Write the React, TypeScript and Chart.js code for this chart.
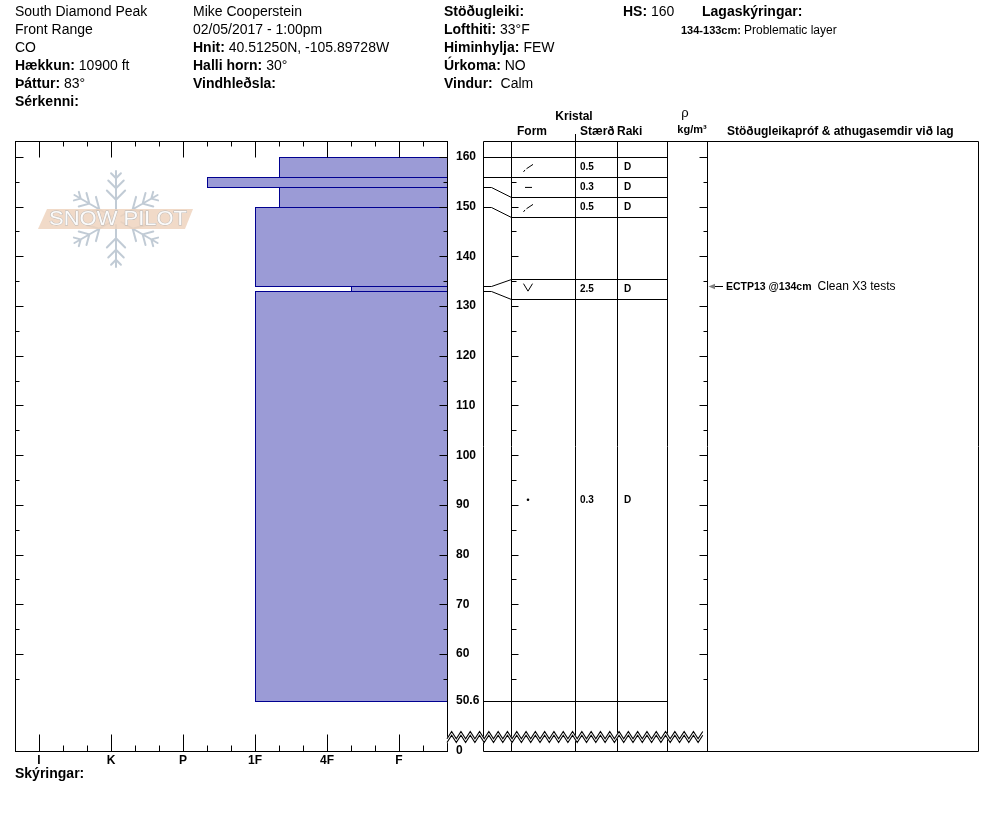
import React, { useEffect, useRef } from 'react';
import { Chart, registerables } from 'chart.js';

Chart.register(...registerables);

const FONT = 'Arial, "Liberation Sans", Helvetica, sans-serif';

// ---------- header data ----------
const siteLines = ['South Diamond Peak', 'Front Range', 'CO'];
const siteFields = [['Hækkun:', '10900 ft'], ['Þáttur:', '83°'], ['Sérkenni:', '']];
const observerLines = ['Mike Cooperstein', '02/05/2017 - 1:00pm'];
const observerFields = [['Hnit:', '40.51250N, -105.89728W'], ['Halli horn:', '30°'], ['Vindhleðsla:', '']];
const weatherFields = [['Stöðugleiki:', ''], ['Lofthiti:', '33°F'], ['Himinhylja:', 'FEW'], ['Úrkoma:', 'NO'], ['Vindur:', ' Calm']];
const snowHeight = ['HS:', '160'];
const layerNotesTitle = 'Lagaskýringar:';
const layerNotes = [['134-133cm:', 'Problematic layer']];
const legendTitle = 'Skýringar:';

// ---------- layer data ----------
const layerTop = [160, 156, 154, 150, 134, 133];
const layerBottom = [156, 154, 150, 134, 133, 50.6];
const layerHardness = ['1F-', 'P-', '1F-', '1F', '4F-', '1F'];
const layerForm = ['DF', 'IF', 'DF', '', 'SH', 'RG'];
const layerSize = ['0.5', '0.3', '0.5', '', '2.5', '0.3'];
const layerMoisture = ['D', 'D', 'D', '', 'D', 'D'];

// ---------- stability tests ----------
const testDepth = [134];
const testCode = ['ECTP13 @134cm'];
const testComment = ['Clean X3 tests'];

// ---------- axes ----------
const hardnessScale = ['', 'F-', 'F', 'F+', '4F-', '4F', '4F+', '1F-', '1F', '1F+', 'P-', 'P', 'P+', 'K-', 'K', 'K+', 'I-', 'I', 'I+'];
const hardnessAxisLabels = ['I', 'K', 'P', '1F', '4F', 'F'];
const depthTicks = [50.6, 60, 70, 80, 90, 100, 110, 120, 130, 140, 150, 160];
const depthAxisMax = 163.2;
const depthAxisMin = 40.5; // compressed (broken) part of the axis, labelled 0
const depthAxisBottomLabel = '0';

// ---------- table headings ----------
const headKristal = 'Kristal';
const headForm = 'Form';
const headSize = 'Stærð';
const headMoist = 'Raki';
const headRho = 'ρ';
const headRhoUnit = 'kg/m³';
const headNotes = 'Stöðugleikapróf & athugasemdir við lag';

const BAR_FILL = '#9b9bd6';
const BAR_EDGE = '#000090';

const c = (v: number) => Math.round(v) + 0.5;

function line(ctx: CanvasRenderingContext2D, x0: number, y0: number, x1: number, y1: number) {
  ctx.beginPath();
  ctx.moveTo(x0, y0);
  ctx.lineTo(x1, y1);
  ctx.stroke();
}

function field(ctx: CanvasRenderingContext2D, x: number, y: number, lab: string, val: string, size = 14, valSize = size) {
  ctx.font = `bold ${size}px ${FONT}`;
  ctx.fillText(lab, x, y);
  const w = ctx.measureText(lab).width;
  if (val) {
    ctx.font = `${valSize}px ${FONT}`;
    ctx.fillText(val, x + w + size * 0.28, y);
  }
}

function drawLogo(ctx: CanvasRenderingContext2D, cx: number, cy: number) {
  ctx.save();
  ctx.strokeStyle = 'rgba(178,190,202,0.8)';
  ctx.lineWidth = 2;
  ctx.lineCap = 'round';
  const len = 48;
  for (let k = 0; k < 6; k++) {
    const ang = Math.PI / 2 + (k * Math.PI) / 3;
    const ux = Math.cos(ang);
    const uy = -Math.sin(ang);
    ctx.beginPath();
    ctx.moveTo(cx + ux * 6, cy + uy * 6);
    ctx.lineTo(cx + ux * len, cy + uy * len);
    const br: [number, number][] = [[0.4, 13], [0.64, 11], [0.85, 7]];
    for (const [t, bl] of br) {
      const bx = cx + ux * len * t;
      const by = cy + uy * len * t;
      for (const s of [-1, 1]) {
        const ba = ang + s * 0.78;
        ctx.moveTo(bx, by);
        ctx.lineTo(bx + Math.cos(ba) * bl, by - Math.sin(ba) * bl);
      }
    }
    ctx.stroke();
  }
  ctx.fillStyle = 'rgba(238,212,190,0.85)';
  ctx.beginPath();
  ctx.moveTo(cx - 69, cy - 10);
  ctx.lineTo(cx + 77, cy - 10);
  ctx.lineTo(cx + 69, cy + 10);
  ctx.lineTo(cx - 78, cy + 10);
  ctx.closePath();
  ctx.fill();
  ctx.font = `20px ${FONT}`;
  ctx.textAlign = 'left';
  ctx.textBaseline = 'middle';
  const txt = 'SNOW PILOT';
  const w = ctx.measureText(txt).width;
  ctx.translate(cx - 67, cy + 0.5);
  ctx.scale(138 / w, 1);
  ctx.fillStyle = '#fbfbfb';
  ctx.strokeStyle = 'rgba(180,180,180,0.9)';
  ctx.lineWidth = 0.9;
  ctx.strokeText(txt, 0, 0);
  ctx.fillText(txt, 0, 0);
  ctx.restore();
}

function drawForm(ctx: CanvasRenderingContext2D, code: string, x: number, y: number) {
  ctx.save();
  ctx.strokeStyle = '#000';
  ctx.fillStyle = '#000';
  ctx.lineWidth = 1;
  ctx.beginPath();
  if (code === 'DF') {
    ctx.moveTo(x - 4.5, y + 5);
    ctx.lineTo(x - 3, y + 3);
    ctx.moveTo(x - 1.5, y + 1.8);
    ctx.lineTo(x + 5, y - 2.5);
    ctx.stroke();
  } else if (code === 'IF') {
    ctx.moveTo(x - 3, y + 0.5);
    ctx.lineTo(x + 4, y + 0.5);
    ctx.stroke();
  } else if (code === 'SH') {
    ctx.moveTo(x - 4.5, y - 5);
    ctx.lineTo(x, y + 2.5);
    ctx.lineTo(x + 4.5, y - 5);
    ctx.stroke();
  } else if (code === 'RG') {
    ctx.arc(x, y, 1.3, 0, Math.PI * 2);
    ctx.fill();
  }
  ctx.restore();
}

const profilePlugin = {
  id: 'snowProfile',
  afterDraw(chart: any) {
    const ctx: CanvasRenderingContext2D = chart.ctx;
    const xs = chart.scales.x;
    const ys = chart.scales.y;
    const { left: L, right: R, top: T, bottom: B } = chart.chartArea;
    const py = (d: number) => ys.getPixelForValue(d);
    const px = (h: number) => xs.getPixelForValue(h);

    const cAxis = R + 36;
    const cForm = cAxis + 28;
    const cSize = cForm + 64;
    const cMoist = cSize + 42;
    const cRho = cMoist + 50;
    const cNote = cRho + 40;
    const cEnd = 978;

    ctx.save();
    drawLogo(ctx, 116, 219);

    // hardness bars
    ctx.lineWidth = 1;
    for (let i = 0; i < layerTop.length; i++) {
      const h = hardnessScale.indexOf(layerHardness[i]);
      const x0 = Math.round(px(h));
      const x1 = Math.round(px(0));
      const y0 = Math.round(py(layerTop[i]));
      const y1 = Math.round(py(layerBottom[i]));
      ctx.fillStyle = BAR_FILL;
      ctx.fillRect(x0, y0, x1 - x0, y1 - y0);
      ctx.strokeStyle = BAR_EDGE;
      ctx.strokeRect(x0 + 0.5, y0 + 0.5, x1 - x0, y1 - y0);
    }

    ctx.strokeStyle = '#000';
    ctx.lineWidth = 1;
    // left plot frame
    ctx.strokeRect(c(L), c(T), Math.round(R) - Math.round(L), Math.round(B) - Math.round(T));

    // depth ticks on the left plot, form column and density column
    for (let d = 160; d >= 55; d -= 5) {
      const y = c(py(d));
      const major = d % 10 === 0;
      line(ctx, c(L), y, c(L) + (major ? 8 : 4), y);
      line(ctx, c(R), y, c(R) - (major ? 8 : 4), y);
      line(ctx, c(cForm), y, c(cForm) + (major ? 7 : 5), y);
      line(ctx, c(cNote), y, c(cNote) - (major ? 8 : 4), y);
    }
    // hardness ticks top and bottom
    for (let h = 1; h < hardnessScale.length - 1; h++) {
      const x = c(px(h));
      const major = hardnessAxisLabels.includes(hardnessScale[h]);
      line(ctx, x, c(T), x, c(T) + (major ? 16 : 5));
      line(ctx, x, c(B), x, c(B) - (major ? 17 : 6));
    }

    // table frame
    line(ctx, c(cAxis), c(T), cEnd + 0.5, c(T));
    line(ctx, c(cAxis), c(B), cEnd + 0.5, c(B));
    for (const x of [cAxis, cForm, cSize, cMoist, cRho, cNote, cEnd]) {
      line(ctx, c(x), c(T), c(x), c(B));
    }
    line(ctx, c(cSize), 134, c(cSize), c(T));

    // layer rows (expanded to a minimum height)
    const MIN_ROW = 20;
    const n = layerTop.length;
    const exp = layerTop.map((t, i) => {
      const a = py(t);
      const b = py(layerBottom[i]);
      if (b - a < MIN_ROW) {
        const m = (a + b) / 2;
        return [m - MIN_ROW / 2, m + MIN_ROW / 2];
      }
      return [a, b];
    });
    const disp = [py(layerTop[0])];
    for (let i = 0; i < n; i++) {
      const next = i + 1 < n ? exp[i + 1][0] : exp[i][1];
      disp.push(Math.max(disp[i] + MIN_ROW, next));
    }
    const bounds = [layerTop[0], ...layerBottom];
    bounds.forEach((d, i) => {
      const ya = c(py(d));
      const yd = c(disp[i]);
      ctx.beginPath();
      ctx.moveTo(c(cAxis), ya);
      if (Math.abs(ya - yd) < 1.5) {
        ctx.lineTo(c(cForm), ya);
      } else {
        ctx.lineTo(c(cAxis) + 8, ya);
        ctx.lineTo(c(cForm), yd);
      }
      ctx.stroke();
      line(ctx, c(cForm), yd, c(cRho), yd);
    });

    // row contents
    ctx.fillStyle = '#000';
    ctx.textBaseline = 'middle';
    ctx.textAlign = 'left';
    for (let i = 0; i < n; i++) {
      const ym = (disp[i] + disp[i + 1]) / 2;
      if (layerForm[i]) drawForm(ctx, layerForm[i], cForm + 17, ym);
      ctx.font = `bold 10px ${FONT}`;
      if (layerSize[i]) ctx.fillText(layerSize[i], cSize + 5, ym + 0.5);
      if (layerMoisture[i]) ctx.fillText(layerMoisture[i], cMoist + 7, ym + 0.5);
    }

    // stability tests
    for (let i = 0; i < testDepth.length; i++) {
      const y = c(py(testDepth[i]));
      ctx.strokeStyle = '#000';
      line(ctx, cNote + 6, y, cNote + 16, y);
      ctx.fillStyle = '#808080';
      ctx.beginPath();
      ctx.moveTo(cNote + 1.5, y);
      ctx.lineTo(cNote + 8, y - 2.8);
      ctx.lineTo(cNote + 8, y + 2.8);
      ctx.closePath();
      ctx.fill();
      ctx.fillStyle = '#000';
      ctx.font = `bold 10.5px ${FONT}`;
      ctx.fillText(testCode[i], cNote + 19, y + 0.5);
      const w = ctx.measureText(testCode[i]).width;
      ctx.font = `12px ${FONT}`;
      ctx.fillText(testComment[i], cNote + 19 + w + 6, y + 0.5);
    }

    // broken-axis zigzag
    const zx0 = R;
    const zx1 = cNote;
    const zy = 731.5;
    const amp = 7.2;
    const gap = 3.8;
    const half = 4.65;
    const pts: [number, number][] = [];
    let k = 0;
    for (let x = zx0; x <= zx1 + 0.01; x += half, k++) {
      pts.push([Math.min(x, zx1), k % 2 === 0 ? zy + amp : zy]);
    }
    ctx.fillStyle = '#fff';
    ctx.beginPath();
    pts.forEach(([x, y], j) => (j === 0 ? ctx.moveTo(x, y - 1) : ctx.lineTo(x, y - 1)));
    for (let j = pts.length - 1; j >= 0; j--) ctx.lineTo(pts[j][0], pts[j][1] + gap + 1);
    ctx.closePath();
    ctx.fill();
    ctx.strokeStyle = '#000';
    ctx.lineWidth = 1.1;
    for (const off of [0, gap]) {
      ctx.beginPath();
      pts.forEach(([x, y], j) => (j === 0 ? ctx.moveTo(x, y + off) : ctx.lineTo(x, y + off)));
      ctx.stroke();
    }
    ctx.lineWidth = 1;

    // header texts
    ctx.fillStyle = '#000';
    ctx.textAlign = 'left';
    ctx.textBaseline = 'middle';
    const rowY = (r: number) => 12 + r * 18;
    ctx.font = `14px ${FONT}`;
    siteLines.forEach((s, r) => ctx.fillText(s, 15, rowY(r)));
    siteFields.forEach(([a, b], r) => field(ctx, 15, rowY(r + siteLines.length), a, b));
    ctx.font = `14px ${FONT}`;
    observerLines.forEach((s, r) => ctx.fillText(s, 193, rowY(r)));
    observerFields.forEach(([a, b], r) => field(ctx, 193, rowY(r + observerLines.length), a, b));
    weatherFields.forEach(([a, b], r) => field(ctx, 444, rowY(r), a, b));
    field(ctx, 623, rowY(0), snowHeight[0], snowHeight[1]);
    ctx.font = `bold 14px ${FONT}`;
    ctx.fillText(layerNotesTitle, 702, rowY(0));
    layerNotes.forEach(([a, b], r) => field(ctx, 681, rowY(r + 1) + 1, a, b, 11, 12));

    // table headings
    ctx.font = `bold 12px ${FONT}`;
    ctx.textAlign = 'center';
    ctx.fillText(headKristal, 574, 117);
    ctx.fillText(headForm, 532, 132);
    ctx.font = `13px ${FONT}`;
    ctx.fillText(headRho, 685, 113);
    ctx.font = `bold 11px ${FONT}`;
    ctx.fillText(headRhoUnit, 692, 130);
    ctx.textAlign = 'left';
    ctx.font = `bold 12px ${FONT}`;
    ctx.fillText(headSize, cSize + 5, 132);
    ctx.fillText(headMoist, cMoist, 132);
    ctx.fillText(headNotes, 727, 132);

    // legend title
    ctx.font = `bold 14px ${FONT}`;
    ctx.fillText(legendTitle, 15, 774);
    ctx.restore();
  },
};

export default function App() {
  const ref = useRef<HTMLCanvasElement>(null);
  useEffect(() => {
    if (!ref.current) return;
    const chart = new Chart(ref.current, {
      type: 'scatter',
      data: { datasets: [] },
      options: {
        responsive: false,
        animation: false,
        events: [],
        layout: { padding: { left: 15, top: 141, right: 511, bottom: 69 } },
        plugins: { legend: { display: false }, tooltip: { enabled: false }, title: { display: false } },
        scales: {
          x: {
            type: 'linear',
            position: 'bottom',
            min: 0,
            max: hardnessScale.length - 1,
            reverse: true,
            grid: { display: false, drawTicks: false, tickLength: 0 },
            border: { display: false },
            afterBuildTicks: (s: any) => {
              s.ticks = hardnessScale.map((_, i) => ({ value: i }));
            },
            afterFit: (s: any) => {
              s.height = 20;
            },
            ticks: {
              autoSkip: false,
              maxRotation: 0,
              minRotation: 0,
              padding: 2,
              color: '#000',
              font: { family: FONT, size: 12, weight: 'bold' },
              callback: (v: any) => {
                const lab = hardnessScale[Math.round(Number(v))];
                return hardnessAxisLabels.includes(lab) ? lab : '';
              },
            },
          },
          y: {
            type: 'linear',
            position: 'right',
            min: depthAxisMin,
            max: depthAxisMax,
            grid: { display: false, drawTicks: false, tickLength: 0 },
            border: { display: false },
            afterBuildTicks: (s: any) => {
              s.ticks = [depthAxisMin, ...depthTicks].map((v) => ({ value: v }));
            },
            afterFit: (s: any) => {
              s.width = 36;
            },
            ticks: {
              autoSkip: false,
              padding: 9,
              crossAlign: 'near',
              color: '#000',
              font: { family: FONT, size: 12, weight: 'bold' },
              callback: (v: any) => (Number(v) === depthAxisMin ? depthAxisBottomLabel : String(v)),
            },
          },
        },
      } as any,
      plugins: [profilePlugin],
    });
    return () => chart.destroy();
  }, []);
  return (
    <div style={{ position: 'absolute', left: 0, top: 0, width: 994, height: 840, background: '#fff' }}>
      <canvas ref={ref} width={994} height={840} style={{ display: 'block', width: 994, height: 840 }} />
    </div>
  );
}
